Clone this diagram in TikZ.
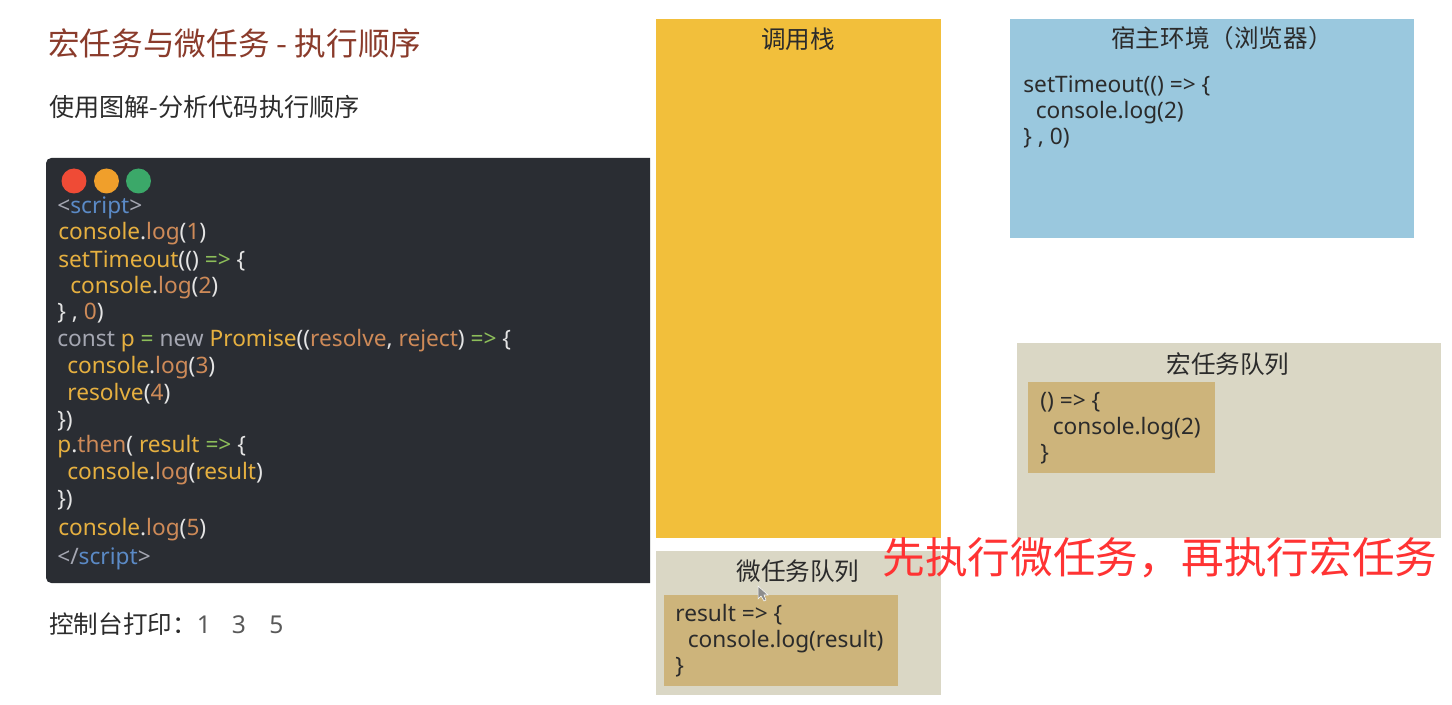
\documentclass[tikz,border=0pt]{standalone}
\usepackage{fontspec}
\usepackage{xcolor}
\setmainfont{Noto Sans}
\newfontfamily\cjk{Noto Sans CJK SC}
\definecolor{TitleRust}{HTML}{8A3B2B}
\definecolor{InkGray}{HTML}{2B2B2B}
\definecolor{CodeBack}{HTML}{2A2D33}
\definecolor{StackGold}{HTML}{F2BF3B}
\definecolor{HostBlue}{HTML}{9AC8DE}
\definecolor{QueueBeige}{HTML}{DAD7C5}
\definecolor{ItemTan}{HTML}{CDB47B}
\definecolor{NoteRed}{HTML}{FF3333}
\definecolor{CodeGold}{HTML}{E6B040}
\definecolor{CodeRust}{HTML}{CE8A58}
\definecolor{CodeGray}{HTML}{A5A7B2}
\definecolor{CodeBlue}{HTML}{5B8AC6}
\definecolor{CodeGreen}{HTML}{8DBE5A}
\definecolor{CodeWhite}{HTML}{E4E4E4}
\definecolor{DotRed}{HTML}{EF4B36}
\definecolor{DotAmber}{HTML}{F09F2B}
\definecolor{DotGreen}{HTML}{3BA869}
\newcommand{\tkgold}[1]{\textcolor{CodeGold}{#1}}
\newcommand{\tkrust}[1]{\textcolor{CodeRust}{#1}}
\newcommand{\tkblue}[1]{\textcolor{CodeBlue}{#1}}
\newcommand{\tkgray}[1]{\textcolor{CodeGray}{#1}}
\newcommand{\tkgreen}[1]{\textcolor{CodeGreen}{#1}}

\begin{document}
\begin{tikzpicture}[
    x=0.02cm, y=-0.02cm,
    pane/.style={inner sep=0pt, outer sep=0pt},
    paneh/.style={font=\cjk\fontsize{14}{16}\selectfont, text=InkGray, inner sep=0pt},
    dot/.style={circle, inner sep=0pt, minimum size=0.5cm},
    codeline/.style={anchor=base west, inner sep=0pt, text=CodeWhite,
                     font=\fontsize{12.9}{15}\selectfont},
    plain/.style={anchor=north west, inner sep=0pt, align=left, text=InkGray,
                  font=\fontsize{12.9}{14.9}\selectfont}
  ]
    \useasboundingbox (0,0) rectangle (1452,705);

    % Left column: headings
    \node[anchor=west, inner sep=0pt, text=TitleRust, font=\cjk\fontsize{18}{20}\selectfont]
        (title) at (48,43) {宏任务与微任务 - 执行顺序};
    \node[anchor=west, inner sep=0pt, text=InkGray, font=\cjk\fontsize{14.3}{16}\selectfont]
        (subtitle) at (49,107) {使用图解-分析代码执行顺序};

    % Code window
    \fill[CodeBack] (650,158) [rounded corners=3pt] -- (46,158) -- (46,583) [sharp corners] -- (650,583) -- cycle;
    \node[dot, fill=DotRed]   (dotred)   at (74,181)    {};
    \node[dot, fill=DotAmber] (dotamber) at (106.5,181) {};
    \node[dot, fill=DotGreen] (dotgreen) at (138.5,181) {};

    \node[codeline] (l1)  at (57,214)  {\tkgray{<}\tkblue{script}\tkgray{>}};
    \node[codeline] (l2)  at (58,240)  {\tkgold{console}.\tkrust{log}(\tkrust{1})};
    \node[codeline] (l3)  at (58,268)  {\tkgold{setTimeout}(() \tkgreen{=>} \{};
    \node[codeline] (l4)  at (70,294)  {\tkgold{console}.\tkrust{log}(\tkrust{2})};
    \node[codeline] (l5)  at (57,320)  {\} , \tkrust{0})};
    \node[codeline] (l6)  at (57,347)  {\tkgray{const} \tkgold{p} \tkgreen{=} \tkgray{new} \tkgold{Promise}((\tkrust{resolve}, \tkrust{reject}) \tkgreen{=>} \{};
    \node[codeline] (l7)  at (67,374)  {\tkgold{console}.\tkrust{log}(\tkrust{3})};
    \node[codeline] (l8)  at (67,400)  {\tkgold{resolve}(\tkrust{4})};
    \node[codeline] (l9)  at (57,427)  {\})};
    \node[codeline] (l10) at (57,452)  {\tkgold{p}.\tkrust{then}( \tkgold{result} \tkgreen{=>} \{};
    \node[codeline] (l11) at (67,479)  {\tkgold{console}.\tkrust{log}(\tkgold{result})};
    \node[codeline] (l12) at (57,506)  {\})};
    \node[codeline] (l13) at (58,535)  {\tkgold{console}.\tkrust{log}(\tkrust{5})};
    \node[codeline] (l14) at (57,564)  {\tkgray{</}\tkblue{script}\tkgray{>}};

    \node[anchor=west, inner sep=0pt, text=InkGray, font=\cjk\fontsize{14}{16}\selectfont]
        (console) at (49,624) {控制台打印：\textcolor{black!65}{\normalfont 1\hspace{0.85em}3\hspace{0.95em}5}};

    % Call stack
    \node[pane, fill=StackGold, minimum width=5.7cm, minimum height=10.38cm] (stack) at (798.5,278.5) {};
    \node[paneh] (stackh) at (798,39) {调用栈};

    % Host environment
    \node[pane, fill=HostBlue, minimum width=8.08cm, minimum height=4.38cm] (host) at (1212,128.5) {};
    \node[paneh] (hosth) at (1222,38) {宿主环境（浏览器）};
    \node[plain] (hostcode) at (1023,75) {setTimeout(() => \{\\\hspace{0.55em}console.log(2)\\\} , 0)};

    % Macro task queue
    \node[pane, fill=QueueBeige, minimum width=8.48cm, minimum height=3.9cm] (macro) at (1229,440.5) {};
    \node[paneh] (macroh) at (1228,364) {宏任务队列};
    \node[pane, fill=ItemTan, minimum width=3.74cm, minimum height=1.82cm] (macroitem) at (1121.5,427.5) {};
    \node[plain] (macrocode) at (1040,392) {() => \{\\\hspace{0.55em}console.log(2)\\\}};

    % Micro task queue
    \node[pane, fill=QueueBeige, minimum width=5.7cm, minimum height=2.88cm] (micro) at (798.5,623) {};
    \node[paneh] (microh) at (798,571) {微任务队列};
    \node[pane, fill=ItemTan, minimum width=4.68cm, minimum height=1.82cm] (microitem) at (781,640.5) {};
    \node[plain] (microcode) at (675,604) {result => \{\\\hspace{0.55em}console.log(result)\\\}};

    % Pointer
    \fill[black!45, draw=white, line width=0.3pt] (758,586) -- (758,599) -- (761,596) -- (764,601) -- (766,600) -- (764,595) -- (768,595) -- cycle;

    % Note
    \node[inner sep=0pt, text=NoteRed, font=\cjk\fontsize{24.3}{28}\selectfont]
        (note) at (1160,558) {先执行微任务，再执行宏任务};
\end{tikzpicture}
\end{document}
